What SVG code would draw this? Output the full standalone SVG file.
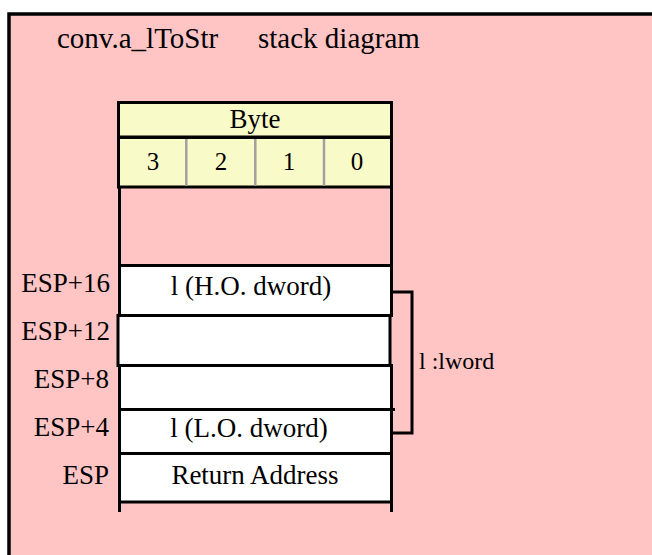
<svg xmlns="http://www.w3.org/2000/svg" width="652" height="555" viewBox="0 0 652 555">
<style>
text{font-family:"Liberation Serif","Times New Roman",serif;fill:#000}
.lbl{font-size:27px;text-anchor:end}
.ctr{text-anchor:middle}
.cell{fill:#fff;stroke:#000;stroke-width:3}
.hdr{fill:#f8fbc8;stroke:#000;stroke-width:3}
.ln{stroke:#000;stroke-width:3;fill:none}
.sep{stroke:#a0a0a0;stroke-width:2.5}
</style>
<rect x="9" y="14" width="643" height="541" fill="#ffc5c5"/>
<path d="M9 555V14H652" fill="none" stroke="#000" stroke-width="3.5"/>
<g id="title">
<text x="57" y="48" font-size="29">conv.a_lToStr</text>
<text x="258" y="48" font-size="29">stack diagram</text>
</g>
<g id="byte-header">
<rect class="hdr" x="118.5" y="102.5" width="273" height="34.5"/>
<text class="ctr" x="255" y="127.5" font-size="27">Byte</text>
</g>
<g id="byte-numbers">
<rect class="hdr" x="118.5" y="137.5" width="273" height="49.5"/>
<line class="sep" x1="186.3" y1="139" x2="186.3" y2="186"/>
<line class="sep" x1="255.3" y1="139" x2="255.3" y2="186"/>
<line class="sep" x1="324" y1="139" x2="324" y2="186"/>
<text class="ctr" x="153" y="170" font-size="25">3</text>
<text class="ctr" x="221" y="170" font-size="25">2</text>
<text class="ctr" x="289" y="170" font-size="25">1</text>
<text class="ctr" x="357" y="170" font-size="25">0</text>
</g>
<g id="frame">
<line class="ln" x1="119.5" y1="187" x2="119.5" y2="266"/>
<line class="ln" x1="391.5" y1="187" x2="391.5" y2="266"/>
<line class="ln" x1="119.5" y1="501" x2="119.5" y2="512"/>
<line class="ln" x1="391.5" y1="501" x2="391.5" y2="512"/>
</g>
<g id="row-esp16">
<rect class="cell" x="119.5" y="265.5" width="272" height="50"/>
<text class="lbl" x="110" y="292">ESP+16</text>
<text class="ctr" x="251" y="295" font-size="27">l (H.O. dword)</text>
</g>
<g id="row-esp12">
<rect class="cell" x="118" y="315.5" width="272" height="50"/>
<text class="lbl" x="110" y="340">ESP+12</text>
</g>
<g id="row-esp8">
<rect class="cell" x="119.5" y="365.5" width="272" height="44"/>
<line class="ln" x1="391" y1="409.5" x2="395" y2="409.5"/>
<text class="lbl" x="109" y="388">ESP+8</text>
</g>
<g id="row-esp4">
<rect class="cell" x="119.5" y="409.5" width="272" height="44"/>
<text class="lbl" x="109" y="436">ESP+4</text>
<text class="ctr" x="249" y="436.5" font-size="27">l (L.O. dword)</text>
</g>
<g id="row-esp">
<rect class="cell" x="119.5" y="453.5" width="272" height="48.5"/>
<text class="lbl" x="109" y="484">ESP</text>
<text class="ctr" x="255" y="484" font-size="27">Return Address</text>
</g>
<g id="connectors">
<path class="ln" d="M393 292H412V433H393"/>
</g>
<g id="lword-label">
<text x="419" y="369" font-size="24">l :lword</text>
</g>
</svg>
